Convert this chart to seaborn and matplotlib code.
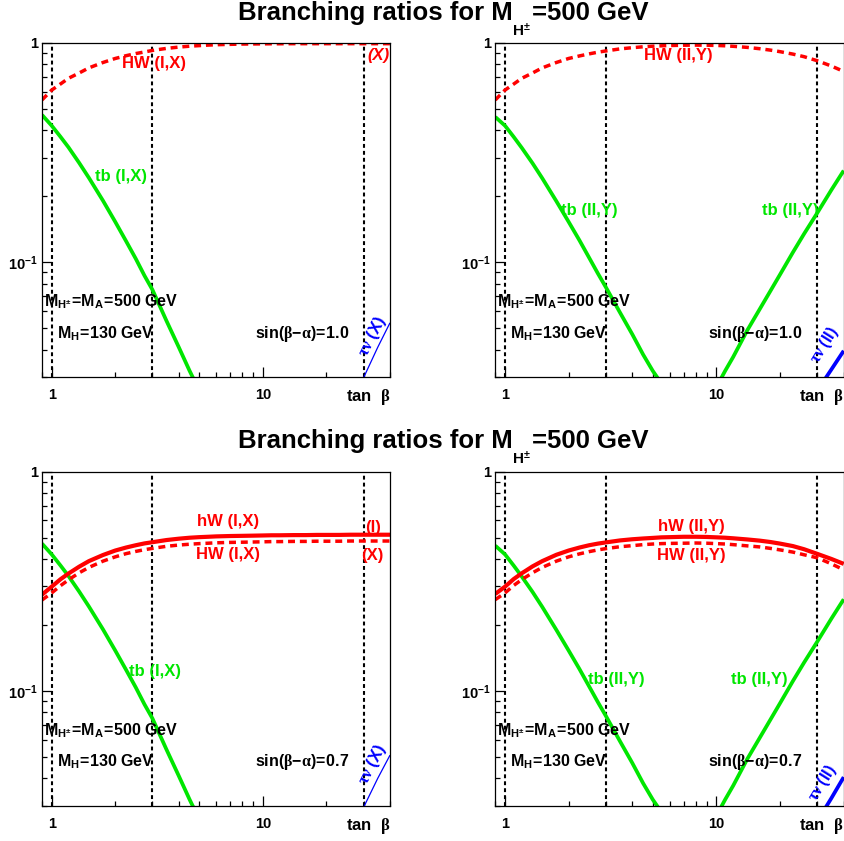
import matplotlib
matplotlib.use("Agg")
import matplotlib.pyplot as plt
import seaborn as sns
from matplotlib.ticker import FixedLocator, FixedFormatter, NullFormatter, LogLocator

# ---------------- data ----------------
tanb = [0.9, 1.0, 1.1, 1.2, 1.35, 1.5, 1.75, 2.0, 2.25, 2.5, 2.75, 3.0, 3.5,
        4.0, 4.5, 5.0, 5.5, 6.0, 7.0, 8.0, 9.0, 10.0, 11.0, 12.0, 14.0, 16.0,
        18.0, 20.0, 23.0, 26.0, 30.0, 35.0, 40.0]

# BR(H+ -> tb)
tb_I = [0.47, 0.42, 0.374, 0.335, 0.284, 0.243, 0.191, 0.153, 0.125, 0.104,
        0.087, 0.075, 0.054, 0.041, 0.032, 0.026, 0.021, 0.017, 0.0125, 0.0095,
        0.0075, 0.006, 0.005, 0.0042, 0.0031, 0.0024, 0.0019, 0.0015, 0.0012,
        0.001, 0.0008, 0.0006, 0.0005]
tb_II = [0.46, 0.42, 0.373, 0.333, 0.283, 0.242, 0.19, 0.153, 0.126, 0.105,
         0.089, 0.077, 0.059, 0.047, 0.038, 0.032, 0.028, 0.025, 0.022, 0.021,
         0.023, 0.027, 0.032, 0.037, 0.049, 0.061, 0.074, 0.088, 0.111, 0.135,
         0.168, 0.214, 0.262]

# BR(H+ -> HW), sin(beta-alpha)=1.0
HW_I_s10 = [0.55, 0.61, 0.65, 0.69, 0.73, 0.77, 0.815, 0.85, 0.875, 0.895,
            0.91, 0.925, 0.945, 0.958, 0.967, 0.973, 0.978, 0.982, 0.986, 0.989,
            0.99, 0.991, 0.992, 0.992, 0.993, 0.993, 0.993, 0.993, 0.993, 0.993,
            0.993, 0.993, 0.993]
HW_II_s10 = [0.55, 0.61, 0.65, 0.69, 0.73, 0.77, 0.815, 0.85, 0.873, 0.892,
             0.908, 0.92, 0.94, 0.952, 0.961, 0.967, 0.971, 0.974, 0.977, 0.978,
             0.977, 0.975, 0.971, 0.966, 0.955, 0.942, 0.928, 0.913, 0.89, 0.866,
             0.83, 0.785, 0.742]

# sin(beta-alpha)=0.7 : hW (solid) and HW (dashed)
hW_I_s07 = [0.275, 0.299, 0.323, 0.343, 0.369, 0.391, 0.417, 0.437, 0.451, 0.462,
            0.471, 0.477, 0.488, 0.495, 0.5, 0.503, 0.505, 0.507, 0.509, 0.51,
            0.511, 0.512, 0.513, 0.513, 0.514, 0.514, 0.515, 0.515, 0.515, 0.516,
            0.516, 0.516, 0.516]
HW_I_s07 = [0.26, 0.28, 0.302, 0.321, 0.346, 0.366, 0.391, 0.409, 0.423, 0.433,
            0.441, 0.447, 0.457, 0.463, 0.467, 0.47, 0.472, 0.474, 0.476, 0.477,
            0.478, 0.479, 0.48, 0.48, 0.481, 0.481, 0.482, 0.482, 0.482, 0.483,
            0.483, 0.483, 0.483]
hW_II_s07 = [0.277, 0.299, 0.324, 0.344, 0.37, 0.391, 0.418, 0.437, 0.451, 0.462,
             0.47, 0.476, 0.486, 0.492, 0.496, 0.499, 0.502, 0.503, 0.505, 0.505,
             0.504, 0.502, 0.5, 0.497, 0.491, 0.485, 0.478, 0.47, 0.458, 0.443,
             0.422, 0.40, 0.38]
HW_II_s07 = [0.261, 0.28, 0.303, 0.322, 0.346, 0.366, 0.391, 0.409, 0.422, 0.432,
             0.44, 0.446, 0.455, 0.46, 0.465, 0.468, 0.47, 0.471, 0.472, 0.473,
             0.472, 0.47, 0.468, 0.465, 0.459, 0.454, 0.447, 0.44, 0.43, 0.418,
             0.405, 0.38, 0.357]

# BR(H+ -> tau nu)
tanb_tau = [25.0, 30.0, 35.0, 40.0]
taunu_X_s10 = [0.021, 0.0298, 0.041, 0.053]
taunu_X_s07 = [0.020, 0.0295, 0.040, 0.051]
taunu_II_s10 = [0.0175, 0.026, 0.0325, 0.0395]
taunu_II_s07 = [0.018, 0.0255, 0.0325, 0.0405]

vlines_tanb = [1, 3, 30]
x_range = (0.9, 40)
y_range = (0.03, 1)

title_main = "Branching ratios for M"
title_sub = r"$\mathbf{H^{\pm}}$"
title_end = "=500 GeV"
mass_text = r"$\mathbf{M_{H^{\pm}}\!=\!M_{A}\!=\!500\ GeV}$"
mh_text = r"$\mathbf{M_{H}\!=\!130\ GeV}$"
sin_texts = [r"$\mathbf{sin(}\beta\mathbf{-}\alpha\mathbf{)\!=\!1.0}$",
             r"$\mathbf{sin(}\beta\mathbf{-}\alpha\mathbf{)\!=\!0.7}$"]

# ---------------- style ----------------
sns.set_theme(style="white")
plt.rcParams['font.family'] = ['Liberation Sans', 'DejaVu Sans']
plt.rcParams['font.weight'] = 'bold'
plt.rcParams['mathtext.fontset'] = 'custom'
plt.rcParams['mathtext.rm'] = 'Liberation Sans:bold'
plt.rcParams['mathtext.bf'] = 'Liberation Sans:bold'
plt.rcParams['mathtext.sf'] = 'Liberation Sans:bold'
plt.rcParams['mathtext.it'] = 'Liberation Serif'
plt.rcParams['lines.scale_dashes'] = False
plt.rcParams['axes.edgecolor'] = 'black'
plt.rcParams['text.color'] = 'black'
plt.rcParams['axes.labelcolor'] = 'black'
plt.rcParams['xtick.color'] = 'black'
plt.rcParams['ytick.color'] = 'black'

RED = '#ff0000'
GREEN = '#00e600'
BLUE = '#0000ff'

W, H = 844, 841
fig = plt.figure(figsize=(W / 100, H / 100), dpi=100)


def px_ax(left, top, width, height):
    return fig.add_axes([left / W, 1 - (top + height) / H, width / W, height / H])


def setup(ax):
    ax.set_xscale('log')
    ax.set_yscale('log')
    ax.set_xlim(*x_range)
    ax.set_ylim(*y_range)
    for s in ax.spines.values():
        s.set_linewidth(0.9)
        s.set_color('black')
    ax.xaxis.set_major_locator(FixedLocator([1, 10]))
    ax.xaxis.set_major_formatter(FixedFormatter(['1', '10']))
    ax.xaxis.set_minor_locator(LogLocator(base=10, subs=range(2, 10)))
    ax.xaxis.set_minor_formatter(NullFormatter())
    ax.yaxis.set_major_locator(FixedLocator([0.1, 1]))
    ax.yaxis.set_major_formatter(FixedFormatter([r"$\mathbf{10^{-1}}$", '1']))
    ax.yaxis.set_minor_locator(LogLocator(base=10, subs=range(2, 10)))
    ax.yaxis.set_minor_formatter(NullFormatter())
    ax.tick_params(which='both', direction='in', top=False, right=False,
                   bottom=True, left=True, color='black', width=0.9)
    ax.tick_params(which='major', length=7.2)
    ax.tick_params(which='minor', length=3.6)
    ax.tick_params(axis='x', which='major', labelsize=10.5, pad=8)
    ax.tick_params(axis='y', which='major', labelsize=10.5, pad=3)
    ax.set_xlabel('')
    ax.set_ylabel('')
    for v in vlines_tanb:
        ln = ax.axvline(v, color='black', lw=1.5)
        ln.set_dashes((2.8, 2.2))
    ax.text(1.0, -0.06, r"$\mathbf{tan}\ \ \beta$", transform=ax.transAxes,
            ha='right', va='center', fontsize=12)


def curve(ax, x, y, color, lw, dashes=None):
    sns.lineplot(x=x, y=y, ax=ax, color=color, linewidth=lw, estimator=None,
                 sort=False, legend=False)
    ln = ax.lines[-1]
    ln.set_solid_capstyle('butt')
    ln.set_solid_joinstyle('round')
    if dashes is not None:
        ln.set_dashes(dashes)
        ln.set_dash_capstyle('butt')
    return ln


def common_text(ax, sin_text):
    ax.text(0.006, 0.225, mass_text, transform=ax.transAxes, ha='left',
            va='center', fontsize=11.5)
    ax.text(0.043, 0.131, mh_text, transform=ax.transAxes, ha='left',
            va='center', fontsize=11.5)
    ax.text(0.611, 0.130, sin_text, transform=ax.transAxes, ha='left',
            va='center', fontsize=11.5)


def lab(ax, x, y, s, color, size=12, **kw):
    ax.text(x, y, s, transform=ax.transAxes, color=color, ha='center',
            va='center', fontsize=size, **kw)


DASH_W = 2.5
DASH = (5, 3.5)

# ---------------- top-left ----------------
ax = px_ax(42, 43, 348, 334)
setup(ax)
curve(ax, tanb, tb_I, GREEN, 2.7)
curve(ax, tanb, HW_I_s10, RED, DASH_W, dashes=DASH)
curve(ax, tanb_tau, taunu_X_s10, BLUE, 0.9)
lab(ax, 0.322, 0.940, "HW (I,X)", RED)
lab(ax, 0.966, 0.962, "(X)", RED, style='italic')
lab(ax, 0.227, 0.599, "tb (I,X)", GREEN)
lab(ax, 0.95, 0.12, r"$\tau\nu\ \mathbf{(X)}$", BLUE, rotation=63)
common_text(ax, sin_texts[0])

# ---------------- top-right ----------------
ax = px_ax(495.3, 43, 348.4, 334)
setup(ax)
curve(ax, tanb, tb_II, GREEN, 2.7)
curve(ax, tanb, HW_II_s10, RED, DASH_W, dashes=DASH)
curve(ax, tanb_tau, taunu_II_s10, BLUE, 2.7)
lab(ax, 0.524, 0.964, "HW (II,Y)", RED)
lab(ax, 0.269, 0.500, "tb (II,Y)", GREEN)
lab(ax, 0.846, 0.500, "tb (II,Y)", GREEN)
lab(ax, 0.945, 0.095, r"$\tau\nu\ \mathbf{(II)}$", BLUE, size=11.5, rotation=58)
common_text(ax, sin_texts[0])

# ---------------- bottom-left ----------------
ax = px_ax(42, 471.7, 348, 334)
setup(ax)
curve(ax, tanb, tb_I, GREEN, 2.7)
curve(ax, tanb, hW_I_s07, RED, 3.0)
curve(ax, tanb, HW_I_s07, RED, DASH_W, dashes=DASH)
curve(ax, tanb_tau, taunu_X_s07, BLUE, 0.9)
lab(ax, 0.534, 0.850, "hW (I,X)", RED)
lab(ax, 0.534, 0.751, "HW (I,X)", RED)
lab(ax, 0.950, 0.834, "(I)", RED)
lab(ax, 0.950, 0.748, "(X)", RED)
lab(ax, 0.324, 0.401, "tb (I,X)", GREEN)
lab(ax, 0.948, 0.122, r"$\tau\nu\ \mathbf{(X)}$", BLUE, rotation=63)
common_text(ax, sin_texts[1])

# ---------------- bottom-right ----------------
ax = px_ax(495.3, 471.7, 348.4, 334)
setup(ax)
curve(ax, tanb, tb_II, GREEN, 2.7)
curve(ax, tanb, hW_II_s07, RED, 3.0)
curve(ax, tanb, HW_II_s07, RED, DASH_W, dashes=DASH)
curve(ax, tanb_tau, taunu_II_s07, BLUE, 2.7)
lab(ax, 0.562, 0.837, "hW (II,Y)", RED)
lab(ax, 0.562, 0.748, "HW (II,Y)", RED)
lab(ax, 0.346, 0.377, "tb (II,Y)", GREEN)
lab(ax, 0.758, 0.377, "tb (II,Y)", GREEN)
lab(ax, 0.94, 0.068, r"$\tau\nu\ \mathbf{(II)}$", BLUE, size=11.5, rotation=58)
common_text(ax, sin_texts[1])

# ---------------- titles ----------------
for base, sub_base in [(20, 36), (448, 464)]:
    fig.text(513 / W, 1 - base / H, title_main, ha='right', va='baseline',
             fontsize=18.5, fontweight='bold')
    fig.text(512 / W, 1 - sub_base / H, title_sub, ha='left', va='baseline',
             fontsize=11)
    fig.text(532 / W, 1 - base / H, title_end, ha='left', va='baseline',
             fontsize=18.5, fontweight='bold')

fig.savefig("out.png", dpi=100)
